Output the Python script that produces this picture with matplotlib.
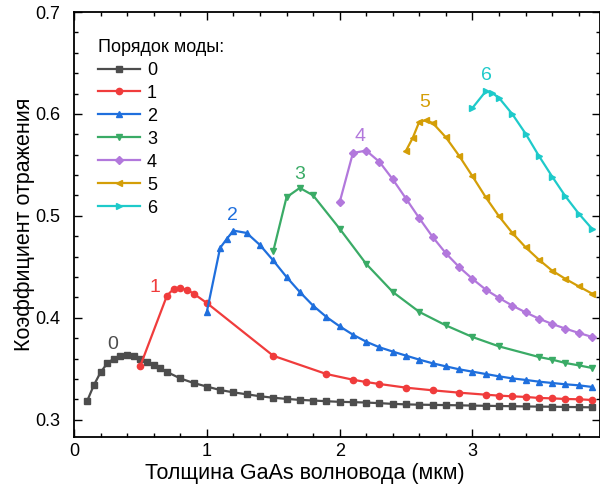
import matplotlib
matplotlib.use("Agg")
import matplotlib.pyplot as plt
from matplotlib.ticker import MultipleLocator

plt.rcParams['font.family'] = ['Liberation Sans', 'DejaVu Sans']

# мода 0
x0 = [0.1, 0.15, 0.2, 0.25, 0.3, 0.35, 0.4, 0.45, 0.5, 0.55, 0.6, 0.65, 0.7,
      0.8, 0.9, 1.0, 1.1, 1.2, 1.3, 1.4, 1.5, 1.6, 1.7, 1.8, 1.9, 2.0, 2.1,
      2.2, 2.3, 2.4, 2.5, 2.6, 2.7, 2.8, 2.9, 3.0, 3.1, 3.2, 3.3, 3.4, 3.5,
      3.6, 3.7, 3.8, 3.9]
y0 = [0.3186, 0.334, 0.3464, 0.3552, 0.360, 0.3628, 0.3631, 0.3621, 0.3596,
      0.3569, 0.3537, 0.3503, 0.3468, 0.3405, 0.336, 0.3325, 0.3291, 0.3268,
      0.3249, 0.3230, 0.3215, 0.3204, 0.3194, 0.3188, 0.3181, 0.3175, 0.3172,
      0.3168, 0.3162, 0.3155, 0.3150, 0.3147, 0.3145, 0.3143, 0.3141, 0.3138,
      0.3136, 0.3134, 0.3132, 0.3130, 0.3128, 0.3127, 0.3125, 0.3123, 0.3121]

# мода 1
x1 = [0.5, 0.7, 0.75, 0.8, 0.85, 0.9, 1.0, 1.5, 1.9, 2.1, 2.2, 2.3, 2.5, 2.7,
      2.9, 3.1, 3.2, 3.3, 3.4, 3.5, 3.6, 3.7, 3.8, 3.9]
y1 = [0.353, 0.4217, 0.4283, 0.4289, 0.4276, 0.4237, 0.4145, 0.3627, 0.3448,
      0.3392, 0.3369, 0.335, 0.3314, 0.3288, 0.3265, 0.3245, 0.3236, 0.3229,
      0.3223, 0.3213, 0.3209, 0.3203, 0.3200, 0.3193]

# мода 2
x2 = [1.0, 1.1, 1.15, 1.2, 1.3, 1.4, 1.5, 1.6, 1.7, 1.8, 1.9, 2.0, 2.1, 2.2,
      2.3, 2.4, 2.5, 2.6, 2.7, 2.8, 2.9, 3.0, 3.1, 3.2, 3.3, 3.4, 3.5, 3.6,
      3.7, 3.8, 3.9]
y2 = [0.4057, 0.4685, 0.4773, 0.4855, 0.4832, 0.4714, 0.4562, 0.440, 0.4253,
      0.4119, 0.4008, 0.3916, 0.3834, 0.3765, 0.371, 0.3668, 0.3628, 0.3589,
      0.3553, 0.3523, 0.3494, 0.3471, 0.3448, 0.3425, 0.3405, 0.339, 0.3373,
      0.336, 0.3347, 0.3337, 0.3321]

# мода 3
x3 = [1.5, 1.6, 1.7, 1.8, 2.0, 2.2, 2.4, 2.6, 2.8, 3.0, 3.2, 3.5, 3.6, 3.7,
      3.8, 3.9]
y3 = [0.4652, 0.5182, 0.5274, 0.5201, 0.4874, 0.4528, 0.4253, 0.4057, 0.3925,
      0.3811, 0.3719, 0.3615, 0.3589, 0.3556, 0.3533, 0.3507]

# мода 4
x4 = [2.0, 2.1, 2.2, 2.3, 2.4, 2.5, 2.6, 2.7, 2.8, 2.9, 3.0, 3.1, 3.2, 3.3,
      3.4, 3.5, 3.6, 3.7, 3.8, 3.9]
y4 = [0.5133, 0.5617, 0.564, 0.5529, 0.5358, 0.5168, 0.4976, 0.4793, 0.4632,
      0.4497, 0.4381, 0.4276, 0.4194, 0.4119, 0.4053, 0.3991, 0.3939, 0.3893,
      0.3851, 0.3812]

# мода 5
x5 = [2.5, 2.55, 2.6, 2.65, 2.7, 2.8, 2.9, 3.0, 3.1, 3.2, 3.3, 3.4, 3.5, 3.6,
      3.7, 3.8, 3.9]
y5 = [0.564, 0.5764, 0.5925, 0.5937, 0.5912, 0.577, 0.5588, 0.5388, 0.5182,
      0.4995, 0.4832, 0.4691, 0.457, 0.4462, 0.4381, 0.4308, 0.4237]

# мода 6
x6 = [3.0, 3.1, 3.15, 3.2, 3.3, 3.4, 3.5, 3.6, 3.7, 3.8, 3.9]
y6 = [0.6059, 0.6222, 0.6204, 0.6157, 0.5998, 0.5806, 0.5588, 0.5385, 0.5191,
      0.5022, 0.4873]

xs = [x0, x1, x2, x3, x4, x5, x6]
ys = [y0, y1, y2, y3, y4, y5, y6]
names = ['0', '1', '2', '3', '4', '5', '6']
colors = ['#4d4d4d', '#f03c3c', '#1f6fdd', '#3aab66', '#b278dc', '#d49e07', '#1ecaca']
markers = ['s', 'o', '^', 'v', 'D', '<', '>']
msizes = [4, 4.5, 5, 5, 4, 5, 5]

# подписи над максимумами
lab_x = [0.29, 0.61, 1.19, 1.70, 2.155, 2.64, 3.105]
lab_y = [0.3736, 0.4295, 0.500, 0.5404, 0.5777, 0.611, 0.6376]

fig = plt.figure(figsize=(6.0, 4.92), dpi=100)
ax = fig.add_axes([0.1233, 0.1118, 0.8767, 0.8638])

for i in range(7):
    ax.plot(xs[i], ys[i], color=colors[i], marker=markers[i], ms=msizes[i],
            lw=1.6, label=names[i])
    ax.text(lab_x[i], lab_y[i], names[i], color=colors[i], fontsize=14,
            ha='center', va='center')

ax.set_xlim(0, 3.96)
ax.set_ylim(0.283, 0.7)
ax.xaxis.set_major_locator(MultipleLocator(1))
ax.xaxis.set_minor_locator(MultipleLocator(0.2))
ax.yaxis.set_major_locator(MultipleLocator(0.1))
ax.yaxis.set_minor_locator(MultipleLocator(0.02))
ax.tick_params(which='both', direction='in', top=True, right=True, labelsize=13)
ax.tick_params(which='major', length=6, width=1)
ax.tick_params(which='minor', length=3, width=1)
ax.tick_params(axis='y', pad=10)
ax.tick_params(axis='x', pad=4)
for s in ax.spines.values():
    s.set_linewidth(1.3)

ax.set_xlabel('Толщина GaAs волновода (мкм)', fontsize=15.5)
ax.xaxis.set_label_coords(0.439, -0.062)
ax.set_ylabel('Коэффициент отражения', fontsize=15.5)
ax.yaxis.set_label_coords(-0.075, 0.5)

leg = ax.legend(title='Порядок моды:', loc='upper left', frameon=False,
                fontsize=13, title_fontsize=13, handlelength=2.3,
                handletextpad=0.4, labelspacing=0.33,
                bbox_to_anchor=(0.015, 0.975))
leg._legend_box.align = 'left'

fig.savefig('out.png', dpi=100)
